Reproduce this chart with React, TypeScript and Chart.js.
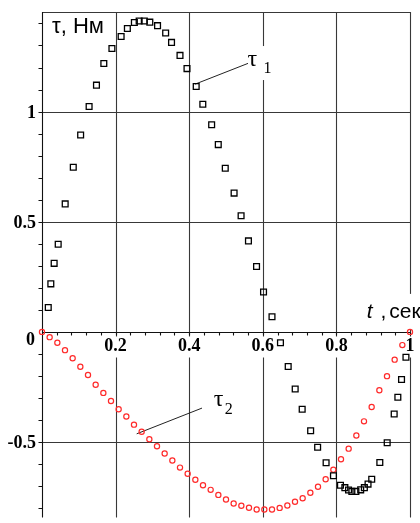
import React, { useEffect, useRef } from "react";
import { Chart, registerables } from "chart.js";

Chart.register(...registerables);

// τ1 — moment on the first link (black squares), t in seconds, τ in N·m
const tau1T = [
  0.017, 0.024, 0.033, 0.044, 0.063, 0.085, 0.105, 0.128, 0.148, 0.168,
  0.190, 0.215, 0.232, 0.251, 0.264, 0.278, 0.293, 0.314, 0.336, 0.352,
  0.375, 0.394, 0.419, 0.437, 0.461, 0.479, 0.498, 0.522, 0.541, 0.561,
  0.583, 0.602, 0.625, 0.648, 0.669, 0.688, 0.707, 0.730, 0.749, 0.772,
  0.792, 0.811, 0.823, 0.833, 0.842, 0.853, 0.866, 0.876, 0.886, 0.896,
  0.918, 0.938, 0.957, 0.967, 0.977, 0.989,
];
const tau1V = [
  0.111, 0.218, 0.311, 0.398, 0.581, 0.747, 0.894, 1.023, 1.120, 1.218,
  1.286, 1.341, 1.377, 1.404, 1.411, 1.411, 1.406, 1.390, 1.357, 1.314,
  1.255, 1.195, 1.114, 1.033, 0.940, 0.850, 0.743, 0.630, 0.527, 0.413,
  0.297, 0.181, 0.069, -0.049, -0.157, -0.259, -0.351, -0.449, -0.524, -0.594,
  -0.653, -0.696, -0.707, -0.718, -0.724, -0.724, -0.717, -0.707, -0.691, -0.669,
  -0.593, -0.503, -0.373, -0.297, -0.216, -0.115,
];

// τ2 — moment on the second link (red circles)
const tau2T = [
  0, 0.0208, 0.0417, 0.0625, 0.0833, 0.1042, 0.125, 0.1458, 0.1667, 0.1875,
  0.2083, 0.2292, 0.25, 0.2708, 0.2917, 0.3125, 0.3333, 0.3542, 0.375, 0.3958,
  0.4167, 0.4375, 0.4583, 0.4792, 0.5, 0.5208, 0.5417, 0.5625, 0.5833, 0.6042,
  0.625, 0.6458, 0.6667, 0.6875, 0.7083, 0.7292, 0.75, 0.7708, 0.7917, 0.8125,
  0.8333, 0.8542, 0.875, 0.8958, 0.9167, 0.9375, 0.9583, 0.9792, 1,
];
const tau2V = [
  0, -0.024, -0.049, -0.083, -0.120, -0.158, -0.196, -0.240, -0.277, -0.314,
  -0.351, -0.384, -0.421, -0.453, -0.487, -0.519, -0.552, -0.584, -0.616, -0.644,
  -0.671, -0.696, -0.717, -0.740, -0.761, -0.779, -0.789, -0.798, -0.806, -0.806,
  -0.806, -0.799, -0.788, -0.771, -0.755, -0.730, -0.703, -0.669, -0.626, -0.578,
  -0.530, -0.470, -0.406, -0.341, -0.265, -0.201, -0.126, -0.060, 0,
];

// axis ranges
const xMin = 0;
const xMax = 1;
const yMin = -0.843;
const yMax = 1.452;

// grid and tick labels
const xGrid = [0.2, 0.4, 0.6, 0.8, 1];
const xTickLabels = ["0.2", "0.4", "0.6", "0.8", "1"];
const yGrid = [-0.5, 0.5, 1];
const yTickLabels = ["-0.5", "0.5", "1"];
const xMinorTicks = [
  0.04, 0.08, 0.12, 0.16, 0.2, 0.24, 0.28, 0.32, 0.36, 0.4, 0.44, 0.48, 0.52,
  0.56, 0.6, 0.64, 0.68, 0.72, 0.76, 0.8, 0.84, 0.88, 0.92, 0.96, 1,
];
const yMinorTicks = [
  -0.8, -0.7, -0.6, -0.5, -0.4, -0.3, -0.2, -0.1, 0.1, 0.2, 0.3, 0.4, 0.5, 0.6,
  0.7, 0.8, 0.9, 1, 1.1, 1.2, 1.3, 1.4,
];

// curve labels with their leader lines (data coordinates)
const tau1Leader = [
  [0.4158, 1.1244],
  [0.5598, 1.2188],
];
const tau1LabelAt = [0.5611, 1.2067];
const tau2Leader = [
  [0.2573, -0.4627],
  [0.4348, -0.3459],
];
const tau2LabelAt = [0.4694, -0.3347];

const TICK_FONT = "bold 18px 'Liberation Serif', 'Times New Roman', serif";
const SANS = "'Liberation Sans', Arial, sans-serif";
const SERIF = "'Liberation Serif', 'Times New Roman', serif";

const axesPlugin = {
  id: "crossAxes",
  beforeDatasetsDraw(chart: any) {
    const { ctx, chartArea: a } = chart;
    const xs = chart.scales.x;
    const ys = chart.scales.y;
    const X = (v: number) => xs.getPixelForValue(v);
    const Y = (v: number) => ys.getPixelForValue(v);
    const snap = (p: number) => Math.round(p) + 0.5;
    const x0 = snap(X(0));
    const y0 = snap(Y(0));

    ctx.save();

    // grid lines and the top frame
    ctx.strokeStyle = "#383838";
    ctx.lineWidth = 1.1;
    ctx.beginPath();
    for (const v of xGrid) {
      const px = snap(X(v));
      ctx.moveTo(px, a.top);
      ctx.lineTo(px, a.bottom);
    }
    for (const v of yGrid) {
      const py = snap(Y(v));
      ctx.moveTo(a.left, py);
      ctx.lineTo(a.right, py);
    }
    ctx.moveTo(a.left, snap(a.top));
    ctx.lineTo(snap(X(xMax)), snap(a.top));
    ctx.stroke();

    // axes through the origin
    ctx.strokeStyle = "#111";
    ctx.beginPath();
    ctx.moveTo(a.left, y0);
    ctx.lineTo(a.right, y0);
    ctx.moveTo(x0, a.top);
    ctx.lineTo(x0, a.bottom);
    // minor ticks
    for (const v of xMinorTicks) {
      const px = snap(X(v));
      ctx.moveTo(px, y0);
      ctx.lineTo(px, y0 + 3);
    }
    for (const v of yMinorTicks) {
      const py = snap(Y(v));
      ctx.moveTo(x0, py);
      ctx.lineTo(x0 - 4, py);
    }
    ctx.stroke();

    // x tick labels on white patches
    ctx.font = TICK_FONT;
    ctx.textAlign = "center";
    ctx.textBaseline = "alphabetic";
    xTickLabels.forEach((t, i) => {
      const px = X(xGrid[i]);
      const w = ctx.measureText(t).width;
      ctx.fillStyle = "#fff";
      ctx.fillRect(px - w / 2 - 1, y0 + 4, w + 2, 21);
      ctx.fillStyle = "#000";
      ctx.fillText(t, px, Y(0) + 18.7);
    });

    // y tick labels
    ctx.textAlign = "right";
    yTickLabels.forEach((t, i) => {
      ctx.fillStyle = "#000";
      ctx.fillText(t, X(0) - 6, Y(yGrid[i]) + 6);
    });
    ctx.fillText("0", X(0) - 7, Y(0) + 13);

    // axis titles
    ctx.textAlign = "left";
    ctx.font = `22px ${SANS}`;
    ctx.fillText("τ, Нм", X(0) + 10, a.top + 21);

    ctx.fillStyle = "#fff";
    ctx.fillRect(X(0.86), Y(0) - 38, 60, 36);
    ctx.fillStyle = "#000";
    ctx.font = `italic 21px ${SANS}`;
    ctx.fillText("t", X(0.8826), Y(0) - 13.6);
    ctx.font = `21px ${SANS}`;
    ctx.fillText(",", X(0.9199), Y(0) - 13.6);
    ctx.fillText("сек", X(0.9435), Y(0) - 13.6);

    // τ1 label with leader
    const l1x = X(tau1LabelAt[0]);
    const l1y = Y(tau1LabelAt[1]);
    ctx.fillStyle = "#fff";
    ctx.fillRect(l1x - 3, l1y - 20, 30, 34);
    ctx.strokeStyle = "#222";
    ctx.lineWidth = 1;
    ctx.beginPath();
    ctx.moveTo(X(tau1Leader[0][0]), Y(tau1Leader[0][1]));
    ctx.lineTo(X(tau1Leader[1][0]), Y(tau1Leader[1][1]));
    ctx.moveTo(X(tau2Leader[0][0]), Y(tau2Leader[0][1]));
    ctx.lineTo(X(tau2Leader[1][0]), Y(tau2Leader[1][1]));
    ctx.stroke();

    ctx.fillStyle = "#000";
    ctx.font = `24px ${SERIF}`;
    ctx.fillText("τ", l1x - 1, l1y);
    ctx.font = `16px ${SERIF}`;
    ctx.fillText("1", l1x + 15, l1y + 7);

    const l2x = X(tau2LabelAt[0]);
    const l2y = Y(tau2LabelAt[1]);
    ctx.font = `24px ${SERIF}`;
    ctx.fillText("τ", l2x - 1, l2y);
    ctx.font = `16px ${SERIF}`;
    ctx.fillText("2", l2x + 10, l2y + 8);

    ctx.restore();
  },
};

export default function App() {
  const canvasRef = useRef<HTMLCanvasElement | null>(null);

  useEffect(() => {
    if (!canvasRef.current) return;
    const chart = new Chart(canvasRef.current, {
      type: "scatter",
      data: {
        datasets: [
          {
            label: "τ1",
            data: tau1T.map((t, i) => ({ x: t, y: tau1V[i] })),
            pointStyle: "rect",
            pointRadius: 4.1,
            pointBorderWidth: 1.3,
            borderColor: "#000",
            backgroundColor: "rgba(255,255,255,0)",
            clip: false as any,
          },
          {
            label: "τ2",
            data: tau2T.map((t, i) => ({ x: t, y: tau2V[i] })),
            pointStyle: "circle",
            pointRadius: 2.6,
            pointBorderWidth: 1.2,
            borderColor: "#ff2a2a",
            backgroundColor: "rgba(255,255,255,0)",
            clip: false as any,
          },
        ],
      },
      options: {
        responsive: false,
        animation: false,
        layout: { padding: { left: 42, right: 10, top: 12, bottom: 0 } },
        plugins: {
          legend: { display: false },
          tooltip: { enabled: false },
        },
        scales: {
          x: { type: "linear", min: xMin, max: xMax, display: false },
          y: { type: "linear", min: yMin, max: yMax, display: false },
        },
      },
      plugins: [axesPlugin],
    });
    return () => chart.destroy();
  }, []);

  return (
    <div style={{ position: "absolute", left: 0, top: 0, width: 420, height: 523, background: "#fff" }}>
      <canvas ref={canvasRef} width={420} height={523} style={{ display: "block" }} />
    </div>
  );
}
